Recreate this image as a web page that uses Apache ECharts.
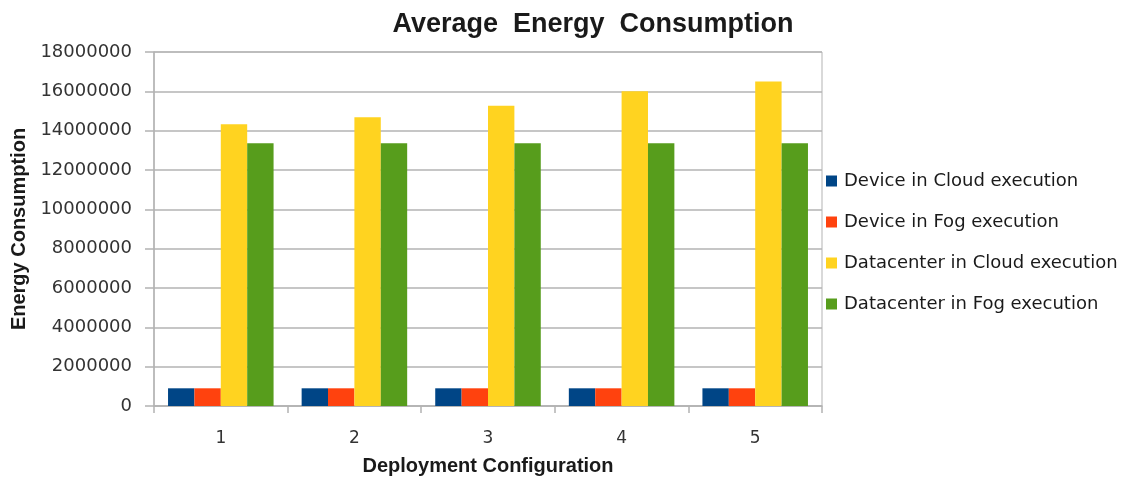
<!DOCTYPE html>
<html>
<head>
<meta charset="utf-8">
<script src="https://cdn.jsdelivr.net/npm/echarts@6/dist/echarts.min.js"></script>
<style>
  html, body { margin: 0; padding: 0; background: #fff; }
  #chart { width: 1131px; height: 479px; }
</style>
</head>
<body>
<div id="chart"></div>
<script>
// Deployment configurations along the x axis
const configurations = ['1', '2', '3', '4', '5'];

// Average energy consumption per configuration
const deviceCloud = [900000, 900000, 900000, 900000, 900000];
const deviceFog = [900000, 900000, 900000, 900000, 900000];
const datacenterCloud = [14320000, 14680000, 15270000, 16000000, 16500000];
const datacenterFog = [13360000, 13360000, 13360000, 13360000, 13360000];

const seriesNames = [
  'Device in Cloud execution',
  'Device in Fog execution',
  'Datacenter in Cloud execution',
  'Datacenter in Fog execution'
];
const seriesColors = ['#004586', '#ff420e', '#ffd320', '#579d1c'];
const seriesData = [deviceCloud, deviceFog, datacenterCloud, datacenterFog];

const gridColor = '#b3b3b3';
const textColor = '#333333';

const chart = echarts.init(document.getElementById('chart'), null, { renderer: 'canvas' });

chart.setOption({
  animation: false,
  backgroundColor: '#ffffff',
  textStyle: { fontFamily: 'DejaVu Sans' },
  title: {
    text: 'Average  Energy  Consumption',
    left: 588,
    textAlign: 'center',
    top: 6,
    textStyle: {
      fontFamily: 'Liberation Sans',
      fontWeight: 'bold',
      fontSize: 27,
      color: '#1a1a1a'
    }
  },
  legend: {
    orient: 'vertical',
    left: 821,
    top: 167,
    itemWidth: 11,
    itemHeight: 11,
    itemGap: 23,
    icon: 'rect',
    data: seriesNames,
    textStyle: {
      fontFamily: 'DejaVu Sans',
      fontSize: 18,
      color: '#1a1a1a',
      padding: [0, 0, 0, 2]
    }
  },
  grid: {
    left: 154,
    top: 52,
    width: 668,
    height: 354,
    outerBoundsMode: 'none',
    containLabel: false,
    show: true,
    borderColor: gridColor,
    borderWidth: 1,
    backgroundColor: 'transparent'
  },
  xAxis: {
    type: 'category',
    data: configurations,
    name: 'Deployment Configuration',
    nameLocation: 'middle',
    nameGap: 50,
    nameTextStyle: {
      fontFamily: 'Liberation Sans',
      fontWeight: 'bold',
      fontSize: 20,
      color: '#1a1a1a'
    },
    axisLine: { lineStyle: { color: gridColor, width: 1.5 } },
    axisTick: { show: true, length: 7, lineStyle: { color: gridColor, width: 1.5 } },
    axisLabel: {
      margin: 24,
      fontFamily: 'DejaVu Sans',
      fontSize: 17,
      color: textColor
    },
    splitLine: { show: false }
  },
  yAxis: {
    type: 'value',
    min: 0,
    max: 18000000,
    interval: 2000000,
    name: 'Energy Consumption',
    nameLocation: 'middle',
    nameGap: 122,
    nameTextStyle: {
      fontFamily: 'Liberation Sans',
      fontWeight: 'bold',
      fontSize: 20,
      color: '#1a1a1a'
    },
    axisLine: { show: true, lineStyle: { color: gridColor, width: 1.5 } },
    axisTick: { show: true, length: 9, lineStyle: { color: gridColor, width: 1.5 } },
    axisLabel: {
      margin: 22,
      fontFamily: 'DejaVu Sans',
      fontSize: 18,
      color: textColor,
      formatter: (v) => String(v)
    },
    splitLine: { show: true, lineStyle: { color: gridColor, width: 1.5 } }
  },
  series: seriesNames.map((name, i) => ({
    name: name,
    type: 'bar',
    data: seriesData[i],
    barGap: '0%',
    barCategoryGap: '21%',
    itemStyle: { color: seriesColors[i] }
  }))
});
</script>
</body>
</html>
